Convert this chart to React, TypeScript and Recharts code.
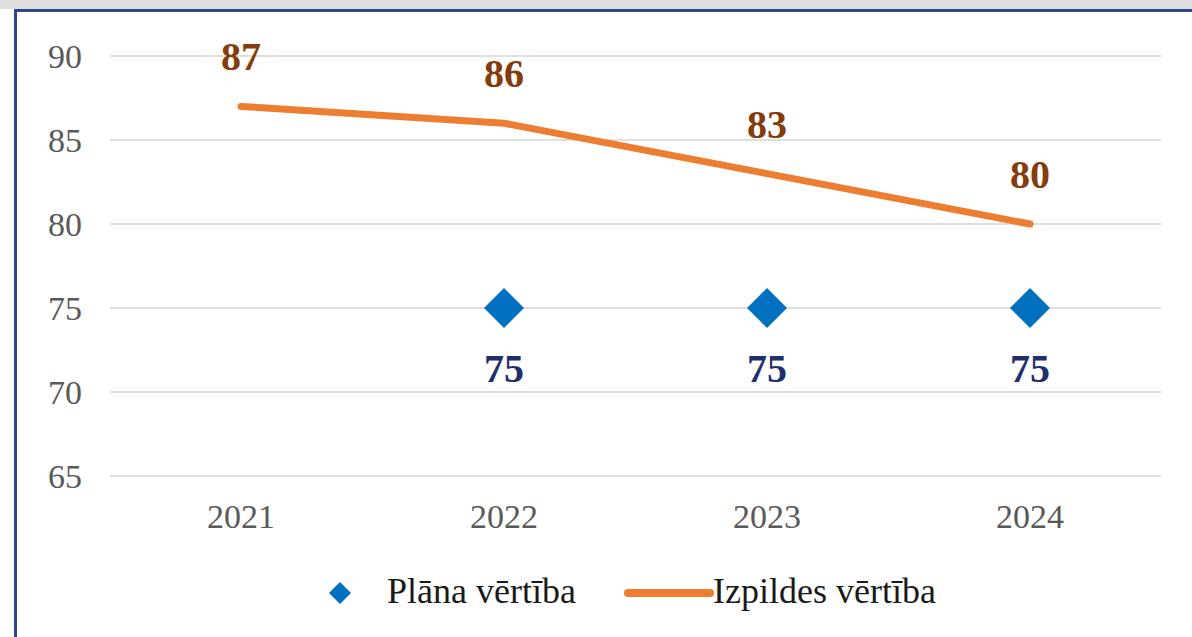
import React from 'react';
import { LineChart, Line, XAxis, YAxis, CartesianGrid, Legend, LabelList } from 'recharts';

const years = ['2021', '2022', '2023', '2024'];
const planValues: (number | null)[] = [null, 75, 75, 75];
const actualValues = [87, 86, 83, 80];
const yTicks = [65, 70, 75, 80, 85, 90];
const planName = 'Plāna vērtība';
const actualName = 'Izpildes vērtība';

const data = years.map((y, i) => ({ year: y, plan: planValues[i], actual: actualValues[i] }));

const FONT = '"Liberation Serif", "Times New Roman", serif';
const ORANGE = '#ED7D31';
const BLUE = '#0070C0';

const Diamond = (props: any) => {
  const { cx, cy, index } = props;
  if (cx == null || cy == null || props.value == null) return <g key={`d-${index}`} />;
  const r = 20;
  return (
    <polygon
      key={`d-${index}`}
      points={`${cx},${cy - r} ${cx + r},${cy} ${cx},${cy + r} ${cx - r},${cy}`}
      fill={BLUE}
    />
  );
};

const LegendContent = () => (
  <div style={{ position: 'relative', height: 60, width: 1192, fontFamily: FONT, fontSize: 36, color: '#1a1a1a' }}>
    <svg style={{ position: 'absolute', left: 328, top: 19 }} width={24} height={24}>
      <polygon points="12,1 23,12 12,23 1,12" fill={BLUE} />
    </svg>
    <span style={{ position: 'absolute', left: 387, top: 9, lineHeight: '40px', whiteSpace: 'nowrap' }}>{planName}</span>
    <svg style={{ position: 'absolute', left: 624, top: 25 }} width={90} height={12}>
      <line x1={4} y1={6} x2={86} y2={6} stroke={ORANGE} strokeWidth={8} strokeLinecap="round" />
    </svg>
    <span style={{ position: 'absolute', left: 713, top: 9, lineHeight: '40px', whiteSpace: 'nowrap' }}>{actualName}</span>
  </div>
);

export default function App() {
  return (
    <div style={{ position: 'fixed', top: 0, left: 0, width: 1192, height: 637, background: '#ffffff', overflow: 'hidden' }}>
      <div style={{ position: 'absolute', top: 0, left: 0, width: 1192, height: 9, background: '#dfdfdf' }} />
      <div
        style={{
          position: 'absolute',
          top: 9,
          left: 14,
          width: 1178,
          height: 628,
          borderTop: '3px solid #2e4a86',
          borderLeft: '3px solid #2e4a86',
          boxSizing: 'border-box',
        }}
      />
      <div style={{ position: 'absolute', top: 0, left: 0 }}>
        <LineChart width={1192} height={637} data={data} margin={{ top: 56, right: 31, bottom: 15, left: 0 }}>
          <CartesianGrid horizontal vertical={false} stroke="#d4d4d4" strokeWidth={1.5} />
          <XAxis
            dataKey="year"
            padding={{ left: 131, right: 131 }}
            axisLine={false}
            tickLine={false}
            tickSize={6}
            tickMargin={22}
            height={86}
            tick={{ fontSize: 34, fill: '#595959', fontFamily: FONT }}
          />
          <YAxis
            domain={[65, 90]}
            ticks={yTicks}
            interval={0}
            width={110}
            axisLine={false}
            tickLine={false}
            tickSize={6}
            tickMargin={22}
            tick={{ fontSize: 34, fill: '#595959', fontFamily: FONT }}
          />
          <Legend verticalAlign="bottom" height={60} wrapperStyle={{ left: 0, width: 1192, bottom: 15 }} content={<LegendContent />} />
          <Line
            dataKey="actual"
            name={actualName}
            stroke={ORANGE}
            strokeWidth={7}
            strokeLinecap="round"
            dot={false}
            activeDot={false}
            isAnimationActive={false}
          >
            <LabelList dataKey="actual" position="top" offset={36} fill="#843C0C" fontSize={40} fontWeight="bold" fontFamily={FONT} />
          </Line>
          <Line
            dataKey="plan"
            name={planName}
            stroke="none"
            strokeWidth={0}
            dot={<Diamond />}
            activeDot={false}
            isAnimationActive={false}
            connectNulls={false}
          >
            <LabelList dataKey="plan" position="bottom" offset={46} fill="#1F2F6E" fontSize={40} fontWeight="bold" fontFamily={FONT} />
          </Line>
        </LineChart>
      </div>
    </div>
  );
}
